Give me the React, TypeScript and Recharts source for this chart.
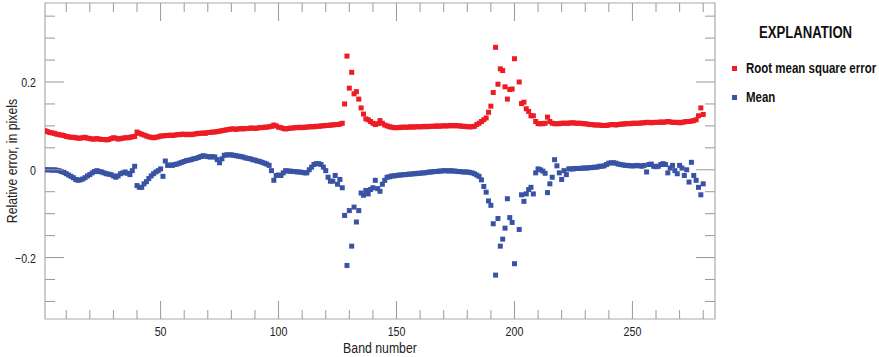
import React from 'react';
import { ScatterChart, Scatter, XAxis, YAxis, ReferenceArea } from 'recharts';

// Root mean square error, bands 1..280 (band 201 has no value)
const rmse: (number | null)[] = [
  0.089, 0.087, 0.085, 0.084, 0.083, 0.081, 0.080, 0.079, 0.078, 0.076,
  0.075, 0.074, 0.074, 0.073, 0.072, 0.072, 0.073, 0.074, 0.072, 0.071,
  0.070, 0.070, 0.071, 0.070, 0.069, 0.069, 0.068, 0.069, 0.071, 0.073,
  0.072, 0.070, 0.071, 0.072, 0.073, 0.073, 0.074, 0.075, 0.076, 0.086,
  0.083, 0.081, 0.079, 0.077, 0.075, 0.074, 0.073, 0.074, 0.075, 0.077,
  0.077, 0.078, 0.078, 0.079, 0.078, 0.079, 0.080, 0.080, 0.081, 0.081,
  0.080, 0.081, 0.080, 0.081, 0.082, 0.083, 0.083, 0.084, 0.083, 0.085,
  0.085, 0.086, 0.086, 0.087, 0.088, 0.089, 0.090, 0.091, 0.092, 0.093,
  0.093, 0.092, 0.093, 0.094, 0.093, 0.094, 0.094, 0.095, 0.095, 0.094,
  0.095, 0.096, 0.096, 0.097, 0.097, 0.098, 0.099, 0.102, 0.100, 0.097,
  0.096, 0.094, 0.093, 0.094, 0.095, 0.095, 0.096, 0.096, 0.097, 0.096,
  0.097, 0.097, 0.098, 0.098, 0.098, 0.099, 0.099, 0.100, 0.100, 0.101,
  0.101, 0.102, 0.102, 0.103, 0.103, 0.104, 0.106, 0.150, 0.259, 0.186,
  0.222, 0.173, 0.178, 0.161, 0.141, 0.127, 0.116, 0.114, 0.110, 0.106,
  0.103, 0.105, 0.112, 0.106, 0.102, 0.100, 0.098, 0.097, 0.096, 0.096,
  0.096, 0.097, 0.097, 0.097, 0.097, 0.098, 0.097, 0.098, 0.098, 0.098,
  0.098, 0.099, 0.098, 0.099, 0.099, 0.099, 0.100, 0.099, 0.100, 0.100,
  0.100, 0.100, 0.101, 0.100, 0.101, 0.100, 0.100, 0.099, 0.099, 0.098,
  0.098, 0.098, 0.099, 0.103, 0.106, 0.110, 0.114, 0.118, 0.131, 0.145,
  0.176, 0.279, 0.195, 0.230, 0.226, 0.189, 0.161, 0.183, 0.184, 0.253,
  null, 0.200, 0.151, 0.154, 0.139, 0.133, 0.123, 0.123, 0.110, 0.105,
  0.105, 0.105, 0.106, 0.120, 0.110, 0.106, 0.105, 0.105, 0.105, 0.106,
  0.106, 0.106, 0.106, 0.107, 0.107, 0.106, 0.106, 0.106, 0.105, 0.105,
  0.104, 0.103, 0.103, 0.102, 0.102, 0.102, 0.101, 0.101, 0.101, 0.102,
  0.103, 0.103, 0.102, 0.103, 0.104, 0.104, 0.105, 0.105, 0.105, 0.106,
  0.106, 0.106, 0.106, 0.107, 0.107, 0.108, 0.108, 0.107, 0.108, 0.108,
  0.108, 0.109, 0.108, 0.109, 0.110, 0.109, 0.108, 0.108, 0.108, 0.107,
  0.108, 0.109, 0.110, 0.110, 0.111, 0.112, 0.114, 0.123, 0.141, 0.126,
];

// Mean, bands 1..280 (band 201 has no value)
const mean: (number | null)[] = [
  0.000, 0.000, 0.000, -0.001, 0.000, -0.001, -0.002, -0.004, -0.006, -0.009,
  -0.012, -0.015, -0.018, -0.022, -0.024, -0.023, -0.021, -0.018, -0.014, -0.011,
  -0.007, -0.004, -0.002, -0.004, -0.005, -0.007, -0.009, -0.010, -0.011, -0.014,
  -0.017, -0.014, -0.009, -0.007, -0.005, -0.008, -0.011, -0.002, 0.008, -0.036,
  -0.040, -0.040, -0.032, -0.027, -0.020, -0.014, -0.009, -0.005, -0.002, 0.002,
  -0.015, 0.020, 0.010, 0.011, 0.010, 0.012, 0.013, 0.015, 0.017, 0.019,
  0.021, 0.022, 0.023, 0.025, 0.026, 0.028, 0.030, 0.032, 0.031, 0.030,
  0.029, 0.030, 0.029, 0.023, 0.016, 0.025, 0.033, 0.034, 0.034, 0.034,
  0.033, 0.032, 0.031, 0.030, 0.029, 0.027, 0.026, 0.025, 0.023, 0.022,
  0.020, 0.019, 0.017, 0.015, 0.013, 0.010, -0.002, -0.024, -0.013, -0.012,
  -0.013, -0.007, -0.002, -0.003, -0.003, -0.004, -0.004, -0.005, -0.005, -0.006,
  -0.007, -0.007, 0.000, 0.006, 0.012, 0.014, 0.014, 0.012, 0.006, -0.002,
  -0.017, -0.026, -0.026, -0.013, -0.033, -0.022, -0.041, -0.104, -0.218, -0.093,
  -0.174, -0.085, -0.119, -0.093, -0.053, -0.058, -0.047, -0.055, -0.045, -0.041,
  -0.024, -0.043, -0.049, -0.033, -0.024, -0.017, -0.016, -0.014, -0.014, -0.013,
  -0.012, -0.012, -0.011, -0.011, -0.010, -0.010, -0.009, -0.009, -0.008, -0.008,
  -0.007, -0.007, -0.006, -0.005, -0.005, -0.004, -0.004, -0.003, -0.003, -0.002,
  -0.002, -0.003, -0.002, -0.003, -0.003, -0.004, -0.004, -0.005, -0.005, -0.005,
  -0.006, -0.007, -0.009, -0.012, -0.015, -0.023, -0.038, -0.051, -0.071, -0.081,
  -0.123, -0.240, -0.111, -0.174, -0.158, -0.133, -0.066, -0.109, -0.120, -0.214,
  null, -0.136, -0.057, -0.072, -0.055, -0.045, -0.040, -0.055, -0.007, 0.002,
  0.000, -0.003, -0.008, -0.052, -0.032, -0.017, 0.023, 0.009, -0.007, -0.022,
  -0.002, -0.011, 0.002, 0.002, 0.002, 0.003, 0.003, 0.003, 0.004, 0.004,
  0.004, 0.005, 0.005, 0.006, 0.006, 0.008, 0.008, 0.009, 0.012, 0.015,
  0.016, 0.016, 0.015, 0.013, 0.012, 0.011, 0.010, 0.010, 0.009, 0.009,
  0.009, 0.010, 0.009, 0.008, 0.010, -0.005, 0.012, 0.013, 0.008, 0.007,
  0.008, 0.012, 0.014, 0.012, -0.007, 0.004, 0.010, -0.002, -0.009, 0.010,
  0.004, -0.013, 0.000, -0.028, 0.017, -0.013, -0.024, -0.040, -0.057, -0.032,
];

const xTicks = [10, 20, 30, 40, 50, 60, 70, 80, 90, 100, 110, 120, 130, 140, 150, 160, 170, 180, 190, 200, 210, 220, 230, 240, 250, 260, 270, 280];
const xMajor = [50, 100, 150, 200, 250];
const yTicks = [-0.3, -0.25, -0.2, -0.15, -0.1, -0.05, 0, 0.05, 0.1, 0.15, 0.2, 0.25, 0.3, 0.35];
const yLabels: Record<string, string> = { '-0.2': '\u22120.2', '0': '0', '0.2': '0.2' };

const RED = '#ed1c24';
const BLUE = '#3953a4';
const TICK = '#9a9a9a';
const FONT = "'Liberation Sans', Arial, sans-serif";
const NARROW = 0.82; // squeeze the sans face to a condensed width

const PLOT_LEFT = 45;
const PLOT_RIGHT = 715;
const PLOT_TOP = 3;
const PLOT_BOTTOM = 319;

const toPoints = (values: (number | null)[]) =>
  values
    .map((v, i) => ({ band: i + 1, value: v }))
    .filter((p) => p.value !== null);

const rmseData = toPoints(rmse);
const meanData = toPoints(mean);

const square = (color: string) => (props: any) => (
  <rect x={props.cx - 2.5} y={props.cy - 2.5} width={5} height={5} fill={color} />
);

const NarrowText = ({ x, y, anchor, size, rotate, children }: any) => (
  <text
    transform={`translate(${x} ${y})${rotate ? ` rotate(${rotate})` : ''} scale(${NARROW} 1)`}
    textAnchor={anchor}
    dominantBaseline="central"
    fontSize={size}
    fill="#222"
    fontFamily={FONT}
  >
    {children}
  </text>
);

const YTick = (props: any) => {
  const { y, payload } = props;
  const label = yLabels[String(payload.value)];
  const len = label !== undefined ? 19 : 10;
  return (
    <g>
      <line x1={PLOT_LEFT} x2={PLOT_LEFT + len} y1={y} y2={y} stroke={TICK} strokeWidth={1} />
      <line x1={PLOT_RIGHT - len} x2={PLOT_RIGHT} y1={y} y2={y} stroke={TICK} strokeWidth={1} />
      {label !== undefined && (
        <NarrowText x={36} y={y + 1} anchor="end" size={13}>{label}</NarrowText>
      )}
    </g>
  );
};

const XTick = (props: any) => {
  const { x, payload } = props;
  const major = xMajor.includes(payload.value);
  const len = major ? 18 : 9;
  return (
    <g>
      <line x1={x} x2={x} y1={PLOT_BOTTOM} y2={PLOT_BOTTOM - len} stroke={TICK} strokeWidth={1} />
      <line x1={x} x2={x} y1={PLOT_TOP} y2={PLOT_TOP + len} stroke={TICK} strokeWidth={1} />
      {major && (
        <NarrowText x={x} y={332} anchor="middle" size={13}>{payload.value}</NarrowText>
      )}
    </g>
  );
};

const legendText: React.CSSProperties = {
  position: 'absolute',
  fontFamily: FONT,
  fontWeight: 'bold',
  color: '#111',
  whiteSpace: 'nowrap',
  lineHeight: '18px',
  transform: `scaleX(${NARROW})`,
  transformOrigin: 'left center',
};

export default function App() {
  return (
    <div style={{ position: 'absolute', left: 0, top: 0, width: 879, height: 357, background: '#fff' }}>
      <ScatterChart width={879} height={357} margin={{ top: PLOT_TOP, right: 879 - PLOT_RIGHT, bottom: 0, left: 0 }}>
        <XAxis
          type="number"
          dataKey="band"
          domain={[1, 285]}
          ticks={xTicks}
          interval={0}
          allowDataOverflow
          height={357 - PLOT_BOTTOM}
          axisLine={false}
          tickLine={false}
          tick={(p: any) => <XTick {...p} />}
          label={() => <NarrowText x={(PLOT_LEFT + PLOT_RIGHT) / 2} y={348} anchor="middle" size={15}>Band number</NarrowText>}
        />
        <YAxis
          type="number"
          dataKey="value"
          domain={[-0.34, 0.38]}
          ticks={yTicks}
          interval={0}
          allowDataOverflow
          width={PLOT_LEFT}
          axisLine={false}
          tickLine={false}
          tick={(p: any) => <YTick {...p} />}
          label={() => <NarrowText x={12} y={(PLOT_TOP + PLOT_BOTTOM) / 2} anchor="middle" size={15} rotate={-90}>Relative error, in pixels</NarrowText>}
        />
        <ReferenceArea x1={1} x2={285} y1={-0.34} y2={0.38} fill="none" stroke="#aaaaaa" strokeWidth={1.2} />
        <Scatter name="Root mean square error" data={rmseData} shape={square(RED)} isAnimationActive={false} />
        <Scatter name="Mean" data={meanData} shape={square(BLUE)} isAnimationActive={false} />
      </ScatterChart>
      <div style={{ ...legendText, left: 759, top: 24, fontSize: 16 }}>EXPLANATION</div>
      <div style={{ position: 'absolute', left: 732, top: 66, width: 5, height: 5, background: RED }} />
      <div style={{ ...legendText, left: 746, top: 59, fontSize: 14 }}>Root mean square error</div>
      <div style={{ position: 'absolute', left: 732, top: 95, width: 5, height: 5, background: BLUE }} />
      <div style={{ ...legendText, left: 746, top: 88, fontSize: 14 }}>Mean</div>
    </div>
  );
}
